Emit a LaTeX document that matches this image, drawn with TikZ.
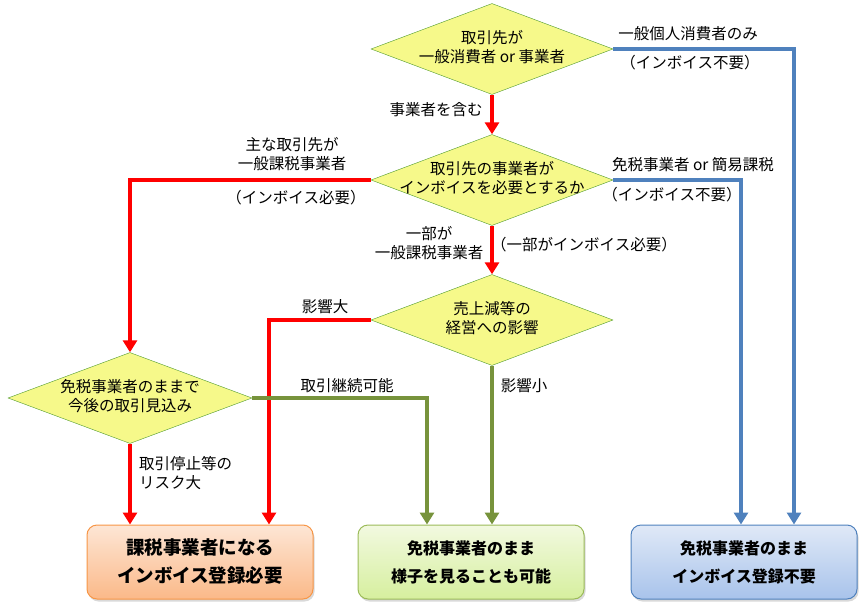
\documentclass[tikz,border=0pt]{standalone}
\usepackage{fontspec}
\setmainfont{Noto Sans CJK JP}
\usetikzlibrary{shapes.geometric,arrows.meta,shadows}
\definecolor{diafill}{HTML}{F6F98A}
\definecolor{diaedge}{HTML}{4E9A2C}
\definecolor{redln}{HTML}{FF0000}
\definecolor{bluln}{HTML}{4F81BD}
\definecolor{grnln}{HTML}{77933C}
\definecolor{orgtop}{HTML}{FDE6D5}
\definecolor{orgbot}{HTML}{FBB989}
\definecolor{orgedge}{HTML}{F79646}
\definecolor{grntop}{HTML}{F2F9E0}
\definecolor{grnbot}{HTML}{D6EF9E}
\definecolor{grnedge}{HTML}{9BBB59}
\definecolor{blutop}{HTML}{E0E9F7}
\definecolor{blubot}{HTML}{A8C3EB}
\newcommand\twoline[2]{\makebox[0pt]{\begin{tabular}{@{}c@{}}#1\\#2\end{tabular}}}
\begin{document}
\begin{tikzpicture}[x=1pt,y=-1pt,
    dia/.style={diamond,draw=diaedge,fill=diafill,aspect=2.66,inner sep=0pt,
      minimum width=242pt,minimum height=91pt,font=\fontsize{15.5}{19.5}\selectfont},
    res/.style={rounded corners=10pt,minimum width=226pt,minimum height=74pt,line width=1pt,
      align=center,font=\bfseries\fontsize{16}{28}\selectfont,
      drop shadow={shadow xshift=1.5pt,shadow yshift=-2.5pt,opacity=.3}},
    lab/.style={align=center,inner sep=0pt,font=\fontsize{15.5}{19}\selectfont},
    con/.style={line width=3.5pt,-{Triangle[width=14pt,length=12pt]}}]
  \useasboundingbox (0,0) rectangle (864,615);

  \node[dia] (q1) at (492,49) {\twoline{取引先が}{一般消費者 or 事業者}};
  \node[dia] (q2) at (492,180) {\twoline{取引先の事業者が}{インボイスを必要とするか}};
  \node[dia] (q3) at (492,320) {\twoline{売上減等の}{経営への影響}};
  \node[dia,minimum width=244pt] (q4) at (130,398) {\twoline{免税事業者のままで}{今後の取引見込み}};

  \node[res,draw=orgedge,top color=orgtop,bottom color=orgbot,
    font=\bfseries\fontsize{18.5}{28}\selectfont] (r1) at (200,562) {課税事業者になる\\インボイス登録必要};
  \node[res,draw=grnedge,top color=grntop,bottom color=grnbot] (r2) at (471,562) {免税事業者のまま\\様子を見ることも可能};
  \node[res,draw=bluln,top color=blutop,bottom color=blubot] (r3) at (744,562) {免税事業者のまま\\インボイス登録不要};

  \draw[con,redln] (q1.south) -- (q2.north);
  \draw[con,redln] (q2.south) -- (q3.north);
  \draw[con,redln] (q2.west) -| (q4.north);
  \draw[con,redln] (q3.west) -| ([xshift=69pt]r1.north);
  \draw[con,redln] (q4.south) -- (q4.south |- r1.north);
  \draw[con,grnln] (q4.east) -| ([xshift=-44pt]r2.north);
  \draw[con,grnln] (q3.south) -- (q3.south |- r2.north);
  \draw[con,bluln] (q1.east) -| ([xshift=50pt]r3.north);
  \draw[con,bluln] (q2.east) -| ([xshift=-3pt]r3.north);

  \node[lab] (t1) at (436,110) {事業者を含む};
  \node[lab] (t2) at (688,34) {一般個人消費者のみ};
  \node[lab] (t3) at (690,63) {（インボイス不要）};
  \node[lab] (t4) at (292,154) {主な取引先が\\一般課税事業者};
  \node[lab] (t5) at (296,198) {（インボイス必要）};
  \node[lab] (t6) at (693,165) {免税事業者 or 簡易課税};
  \node[lab] (t7) at (672,195) {（インボイス不要）};
  \node[lab] (t8) at (429,243) {一部が\\一般課税事業者};
  \node[lab] (t9) at (584,245) {（一部がインボイス必要）};
  \node[lab] (t10) at (325,307) {影響大};
  \node[lab] (t11) at (347,386) {取引継続可能};
  \node[lab] (t12) at (524,386) {影響小};
  \node[lab,align=left,anchor=west] (t13) at (139,473) {取引停止等の\\リスク大};
\end{tikzpicture}
\end{document}
